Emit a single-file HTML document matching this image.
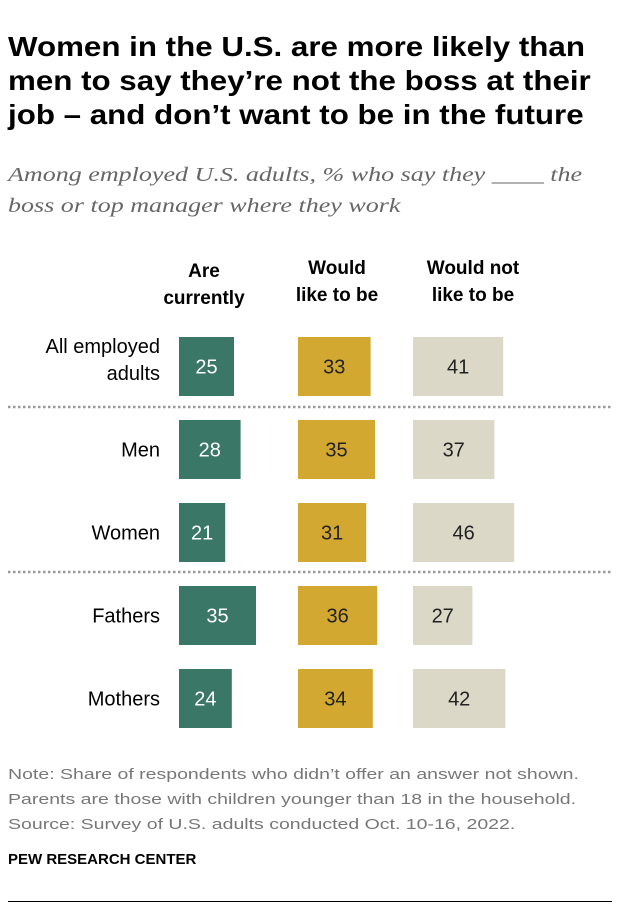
<!DOCTYPE html>
<html><head><meta charset="utf-8"><style>
body{margin:0;width:620px;height:912px;background:#fff;font-family:"Liberation Sans",sans-serif;position:relative;overflow:hidden}
.abs{position:absolute}
#title{left:8px;top:30px;font-size:28px;font-weight:bold;line-height:34px;color:#000;transform:scaleX(1.118);transform-origin:0 0;white-space:nowrap}
#sub{left:8px;top:160px;font-family:"Liberation Serif",serif;font-style:italic;font-size:20.5px;line-height:31px;color:#666;transform:scaleX(1.27);transform-origin:0 0;white-space:nowrap}
.hdr{font-weight:bold;font-size:19px;line-height:27px;text-align:center;color:#000;width:140px}
.note{left:8px;font-size:15px;color:#777;line-height:25px;transform:scaleX(1.3);transform-origin:0 0;white-space:nowrap}
</style></head><body>
<div id="title" class="abs">Women in the U.S. are more likely than<br>men to say they’re not the boss at their<br>job – and don’t want to be in the future</div>
<div id="sub" class="abs">Among employed U.S. adults, % who say they ____ the<br>boss or top manager where they work</div>
<div class="abs hdr" style="left:134px;top:258px">Are<br>currently</div>
<div class="abs hdr" style="left:267px;top:255px">Would<br>like to be</div>
<div class="abs hdr" style="left:403px;top:255px">Would not<br>like to be</div>
<svg class="abs" style="left:0;top:0" width="620" height="912" id="chart"></svg>
<div class="abs note" style="top:762px">Note: Share of respondents who didn’t offer an answer not shown.<br>Parents are those with children younger than 18 in the household.<br>Source: Survey of U.S. adults conducted Oct. 10-16, 2022.</div>
<div class="abs" style="left:8px;top:851px;font-size:15px;font-weight:bold;color:#000">PEW RESEARCH CENTER</div>
<div class="abs" style="left:8px;top:901px;width:604px;height:1px;background:#000"></div>
<script>
const categories=[["All employed","adults"],["Men"],["Women"],["Fathers"],["Mothers"]];
const areCurrently=[25,28,21,35,24];
const wouldLike=[33,35,31,36,34];
const wouldNotLike=[41,37,46,27,42];
const series=[areCurrently,wouldLike,wouldNotLike];
const colors=["#3a7767","#d2a831","#dcd8c7"];
const textColors=["#fff","#222","#222"];
const colX=[179,298,413];
const ns="http://www.w3.org/2000/svg";
const svg=document.getElementById('chart');
const xs=v=>v*2.2;
const rowY=i=>337+i*83;
const bh=59;
function mk(tag,attrs){const e=document.createElementNS(ns,tag);for(const k in attrs)e.setAttribute(k,attrs[k]);svg.appendChild(e);return e;}
[407,572].forEach((y,k)=>{const l=mk('line',{x1:8,x2:612,y1:y,y2:y,stroke:'#999','stroke-width':2.5,'stroke-dasharray':'2.5 2.5'});

});
categories.forEach((c,i)=>{
  const y=rowY(i);
  const t=mk('text',{x:160,'text-anchor':'end','font-size':20,fill:'#000'});
  
  
  if(c.length===2){
    [0,1].forEach(j=>{const ts=document.createElementNS(ns,'tspan');ts.setAttribute('x',160);ts.setAttribute('y',y+16+j*27);ts.textContent=c[j];t.appendChild(ts);});
  } else {t.setAttribute('y',y+bh/2+7);t.textContent=c[0];}
  series.forEach((s,k)=>{
    const w=xs(s[i]);
    const r=mk('rect',{x:colX[k],y:y,width:w,height:bh,fill:colors[k]});
    
    
    const v=mk('text',{x:colX[k]+w/2,y:y+bh/2+7,'text-anchor':'middle','font-size':20,fill:textColors[k]});
    
    
    v.textContent=s[i];
  });
});
</script>
</body></html>
